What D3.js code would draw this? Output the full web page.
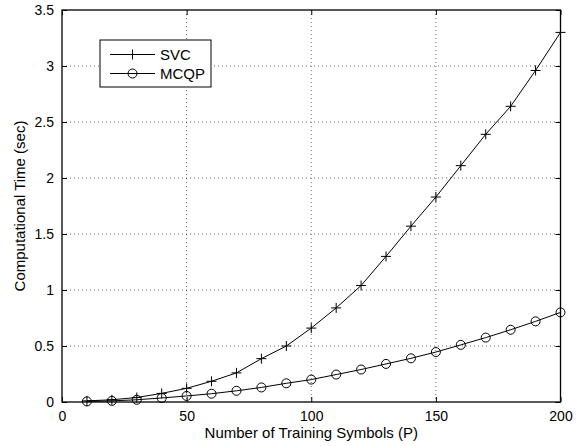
<!DOCTYPE html>
<html>
<head>
<meta charset="utf-8">
<script src="https://cdn.jsdelivr.net/npm/d3@7"></script>
<style>
  body { margin: 0; background: #fff; }
  text { font-family: "Liberation Sans", Arial, sans-serif; fill: #000; }
</style>
</head>
<body>
<svg id="chart" width="581" height="446"></svg>
<script>
// data
const P = [10, 20, 30, 40, 50, 60, 70, 80, 90, 100, 110, 120, 130, 140, 150, 160, 170, 180, 190, 200];
const svc = [0.01, 0.02, 0.04, 0.077, 0.122, 0.185, 0.26, 0.387, 0.50, 0.66, 0.84, 1.04, 1.30, 1.57, 1.83, 2.11, 2.39, 2.64, 2.96, 3.30];
const mcqp = [0.005, 0.01, 0.02, 0.036, 0.054, 0.074, 0.10, 0.13, 0.167, 0.20, 0.245, 0.29, 0.34, 0.39, 0.446, 0.51, 0.575, 0.645, 0.72, 0.80];
const xTicks = [0, 50, 100, 150, 200];
const yTicks = [0, 0.5, 1, 1.5, 2, 2.5, 3, 3.5];

const svg = d3.select('#chart');
const mLeft = 62, mRight = 560.5, mTop = 10, mBottom = 402;

const x = d3.scaleLinear().domain([0, 200]).range([mLeft, mRight]);
const y = d3.scaleLinear().domain([0, 3.5]).range([mBottom, mTop]);

// grid
svg.append('g').selectAll('line').data(xTicks.slice(1, -1)).join('line')
    .attr('x1', d => x(d)).attr('x2', d => x(d))
    .attr('y1', mTop).attr('y2', mBottom)
    .attr('stroke', '#000').attr('stroke-width', 0.6).attr('stroke-dasharray', '1,3');
svg.append('g').selectAll('line').data(yTicks.slice(1, -1)).join('line')
    .attr('y1', d => y(d)).attr('y2', d => y(d))
    .attr('x1', mLeft).attr('x2', mRight)
    .attr('stroke', '#000').attr('stroke-width', 0.6).attr('stroke-dasharray', '1,3');

// axes (ticks inward)
const fmt = d => d3.format('~g')(d);
const xAxis = svg.append('g').attr('transform', `translate(0,${mBottom})`)
    .call(d3.axisBottom(x).tickValues(xTicks).tickSize(-5).tickPadding(9).tickFormat(fmt));
const yAxis = svg.append('g').attr('transform', `translate(${mLeft},0)`)
    .call(d3.axisLeft(y).tickValues(yTicks).tickSize(-5).tickPadding(8).tickFormat(fmt));
svg.append('g').attr('transform', `translate(0,${mTop})`)
    .call(d3.axisTop(x).tickValues(xTicks).tickSize(-5).tickFormat(''));
svg.append('g').attr('transform', `translate(${mRight},0)`)
    .call(d3.axisRight(y).tickValues(yTicks).tickSize(-5).tickFormat(''));
svg.selectAll('.domain').remove();
svg.selectAll('.tick line').attr('stroke', '#000');
svg.selectAll('.tick text').attr('font-size', 14).attr('font-family', '"Liberation Sans", Arial, sans-serif');

// frame
svg.append('rect').attr('x', mLeft).attr('y', mTop)
    .attr('width', mRight - mLeft).attr('height', mBottom - mTop)
    .attr('fill', 'none').attr('stroke', '#000').attr('stroke-width', 1.3);

// lines
const line = d3.line().x((d, i) => x(P[i])).y(d => y(d));
svg.append('path').datum(svc).attr('d', line)
    .attr('fill', 'none').attr('stroke', '#000').attr('stroke-width', 1);
svg.append('path').datum(mcqp).attr('d', line)
    .attr('fill', 'none').attr('stroke', '#000').attr('stroke-width', 1);

function plus(g, cx, cy) {
    g.append('path').attr('d', `M${cx - 5},${cy}H${cx + 5}M${cx},${cy - 5}V${cy + 5}`)
        .attr('stroke', '#000').attr('stroke-width', 1).attr('fill', 'none');
}
function circ(g, cx, cy) {
    g.append('circle').attr('cx', cx).attr('cy', cy).attr('r', 4.5)
        .attr('stroke', '#000').attr('stroke-width', 1).attr('fill', 'none');
}
const mk = svg.append('g');
svc.forEach((v, i) => plus(mk, x(P[i]), y(v)));
mcqp.forEach((v, i) => circ(mk, x(P[i]), y(v)));

// labels
svg.append('text').attr('x', (mLeft + mRight) / 2).attr('y', 438)
    .attr('text-anchor', 'middle').attr('font-size', 15)
    .text('Number of Training Symbols (P)');
svg.append('text').attr('transform', `translate(25,${(mTop + mBottom) / 2}) rotate(-90)`)
    .attr('text-anchor', 'middle').attr('font-size', 15)
    .text('Computational Time (sec)');

// legend
const lg = svg.append('g');
lg.append('rect').attr('x', 100).attr('y', 40).attr('width', 111).attr('height', 47)
    .attr('fill', '#fff').attr('stroke', '#000').attr('stroke-width', 1);
const items = [{ name: 'SVC', m: plus, cy: 54.5 }, { name: 'MCQP', m: circ, cy: 73.5 }];
items.forEach(it => {
    lg.append('line').attr('x1', 110).attr('x2', 155).attr('y1', it.cy).attr('y2', it.cy)
        .attr('stroke', '#000').attr('stroke-width', 1);
    it.m(lg, 132.5, it.cy);
    lg.append('text').attr('x', 160).attr('y', it.cy).attr('dy', '0.36em')
        .attr('font-size', 15).text(it.name);
});
</script>
</body>
</html>
